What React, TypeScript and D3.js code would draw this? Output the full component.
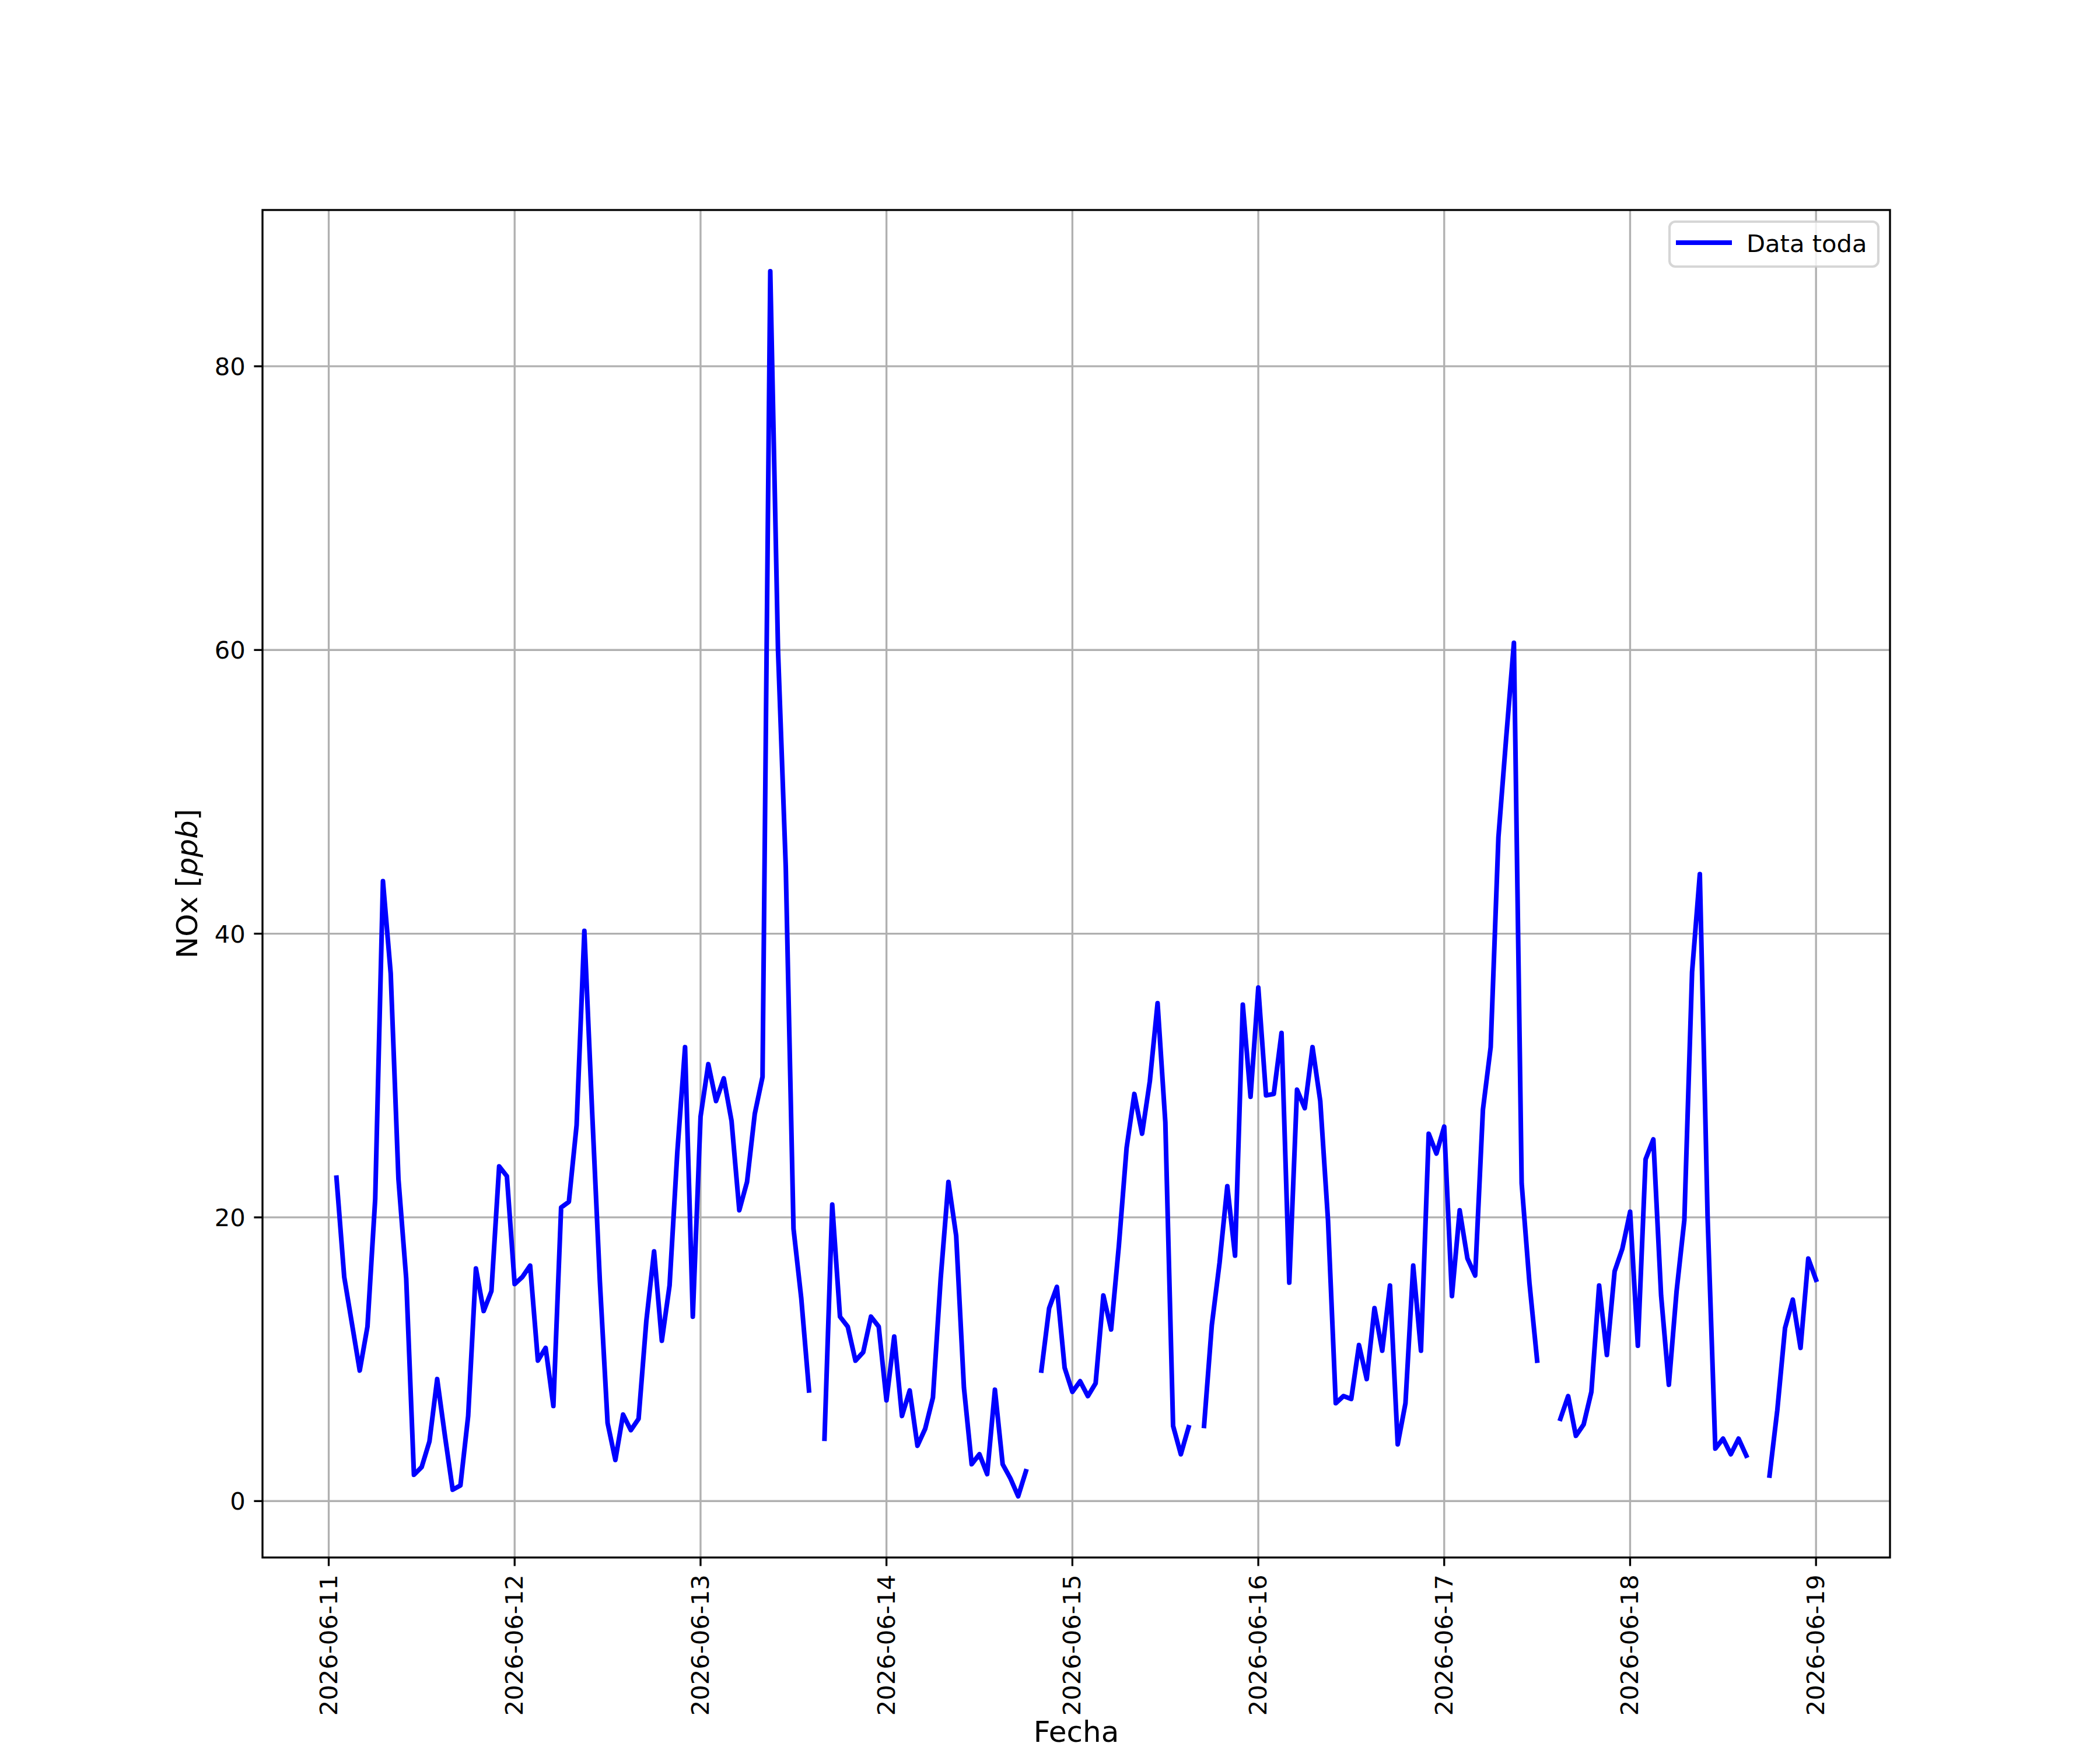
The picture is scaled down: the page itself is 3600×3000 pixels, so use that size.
import React from "react";
import * as d3 from "d3";

// Hourly NOx [ppb]; first value at 2026-06-11 01:00, null = missing hour
const startTime = "2026-06-11T01:00:00Z";
const day1: (number | null)[] = [22.8, 15.8, 12.5, 9.2, 12.3, 21.3, 43.7, 37.2, 22.7, 15.7, 1.85, 2.4, 4.2, 8.6, 4.6, 0.8, 1.1, 6.0, 16.4, 13.4, 14.8, 23.6, 22.9, 15.3];
const day2: (number | null)[] = [15.8, 16.6, 9.9, 10.8, 6.7, 20.7, 21.1, 26.5, 40.2, 27.5, 15.5, 5.5, 2.9, 6.1, 5.0, 5.8, 12.7, 17.6, 11.3, 15.2, 24.6, 32.0, 13.0, 27.1];
const day3: (number | null)[] = [30.8, 28.2, 29.8, 26.8, 20.5, 22.5, 27.3, 29.9, 86.7, 60.0, 44.7, 19.2, 14.3, 7.8, null, 4.4, 20.9, 13.0, 12.3, 9.9, 10.5, 13.0, 12.3, 7.1];
const day4: (number | null)[] = [11.6, 6.0, 7.8, 3.9, 5.1, 7.3, 15.7, 22.5, 18.7, 8.0, 2.6, 3.3, 1.9, 7.85, 2.6, 1.6, 0.34, 2.1, null, 9.2, 13.6, 15.1, 9.4, 7.7];
const day5: (number | null)[] = [8.45, 7.4, 8.3, 14.5, 12.1, 18.0, 24.9, 28.7, 25.9, 29.6, 35.1, 26.7, 5.3, 3.3, 5.2, null, 5.3, 12.4, 16.8, 22.2, 17.3, 35.0, 28.5, 36.2];
const day6: (number | null)[] = [28.6, 28.7, 33.0, 15.4, 29.0, 27.7, 32.0, 28.2, 19.8, 6.9, 7.4, 7.2, 11.0, 8.6, 13.6, 10.6, 15.2, 4.0, 6.9, 16.6, 10.6, 25.9, 24.5, 26.4];
const day7: (number | null)[] = [14.45, 20.5, 17.1, 15.9, 27.6, 32.0, 46.8, 53.8, 60.5, 22.4, 15.4, 9.9, null, null, 5.8, 7.4, 4.6, 5.4, 7.7, 15.2, 10.3, 16.2, 17.8, 20.4];
const day8: (number | null)[] = [10.95, 24.1, 25.5, 14.5, 8.2, 14.8, 19.8, 37.3, 44.2, 20.1, 3.7, 4.4, 3.3, 4.4, 3.2, null, null, 1.8, 6.4, 12.2, 14.2, 10.8, 17.1, 15.6];

const xTickDates = ["2026-06-11", "2026-06-12", "2026-06-13", "2026-06-14", "2026-06-15", "2026-06-16", "2026-06-17", "2026-06-18", "2026-06-19"];
const yTickValues = [0, 20, 40, 60, 80];
const seriesLabel = "Data toda";
const xLabel = "Fecha";

const W = 3600;
const H = 3000;
const L = 450, R = 3240, T = 360, B = 2670;
const FONT = "DejaVu Sans";

type Pt = { t: Date; v: number | null };

export default function App() {
  const values = [...day1, ...day2, ...day3, ...day4, ...day5, ...day6, ...day7, ...day8];
  const t0 = new Date(startTime).getTime();
  const data: Pt[] = values.map((v, i) => ({ t: new Date(t0 + i * 3600 * 1000), v }));

  const tMin = data[0].t.getTime();
  const tMax = data[data.length - 1].t.getTime();
  const tPad = (tMax - tMin) * 0.05;
  const x = d3.scaleUtc().domain([new Date(tMin - tPad), new Date(tMax + tPad)]).range([L, R]);

  const defined = values.filter((v): v is number => v != null);
  const vMin = d3.min(defined)!;
  const vMax = d3.max(defined)!;
  const vPad = (vMax - vMin) * 0.05;
  const y = d3.scaleLinear().domain([vMin - vPad, vMax + vPad]).range([B, T]);

  const line = d3
    .line<Pt>()
    .defined((d) => d.v != null)
    .x((d) => x(d.t))
    .y((d) => y(d.v as number));

  const xTicks = xTickDates.map((s) => ({ s, px: x(new Date(s + "T00:00:00Z")) }));

  const lw = 8;
  const gridW = 3.33;
  const tickLen = 14.6;
  const pad = 14.6;

  return (
    <svg
      width={W}
      height={H}
      viewBox={`0 0 ${W} ${H}`}
      style={{ position: "absolute", left: 0, top: 0, background: "#fff" }}
      fontFamily={FONT}
    >
      <rect x={0} y={0} width={W} height={H} fill="#fff" />
      {/* grid */}
      <g stroke="#b0b0b0" strokeWidth={gridW}>
        {xTicks.map((t) => (
          <line key={t.s} x1={t.px} x2={t.px} y1={T} y2={B} />
        ))}
        {yTickValues.map((v) => (
          <line key={v} x1={L} x2={R} y1={y(v)} y2={y(v)} />
        ))}
      </g>
      {/* data line */}
      <path
        d={line(data) || ""}
        fill="none"
        stroke="#0000ff"
        strokeWidth={lw}
        strokeLinejoin="round"
        strokeLinecap="square"
      />
      {/* spines */}
      <rect x={L} y={T} width={R - L} height={B - T} fill="none" stroke="#000" strokeWidth={gridW} />
      {/* x ticks */}
      <g>
        {xTicks.map((t) => (
          <g key={t.s}>
            <line x1={t.px} x2={t.px} y1={B} y2={B + tickLen} stroke="#000" strokeWidth={gridW} />
            <text
              transform={`translate(${t.px},${B + tickLen + pad}) rotate(-90)`}
              y={14}
              textAnchor="end"
              fontSize={41.67}
              fill="#000"
            >
              {t.s}
            </text>
          </g>
        ))}
      </g>
      {/* y ticks */}
      <g>
        {yTickValues.map((v) => (
          <g key={v}>
            <line x1={L - tickLen} x2={L} y1={y(v)} y2={y(v)} stroke="#000" strokeWidth={gridW} />
            <text x={L - tickLen - pad} y={y(v) + 15.2} textAnchor="end" fontSize={41.67} fill="#000">
              {v}
            </text>
          </g>
        ))}
      </g>
      {/* axis labels */}
      <text x={(L + R) / 2} y={2986} textAnchor="middle" fontSize={50} fill="#000">
        {xLabel}
      </text>
      <text transform={`translate(338,${(T + B) / 2}) rotate(-90)`} textAnchor="middle" fontSize={50} fill="#000">
        NOx [<tspan fontStyle="italic">ppb</tspan>]
      </text>
      {/* legend */}
      <g>
        <rect
          x={2862}
          y={380}
          width={358}
          height={77}
          rx={10}
          ry={10}
          fill="#fff"
          fillOpacity={0.8}
          stroke="#cccccc"
          strokeOpacity={0.8}
          strokeWidth={4.17}
        />
        <line x1={2877} x2={2965} y1={416} y2={416} stroke="#0000ff" strokeWidth={lw} strokeLinecap="square" />
        <text x={2994} y={431.7} fontSize={41.67} fill="#000">
          {seriesLabel}
        </text>
      </g>
    </svg>
  );
}
